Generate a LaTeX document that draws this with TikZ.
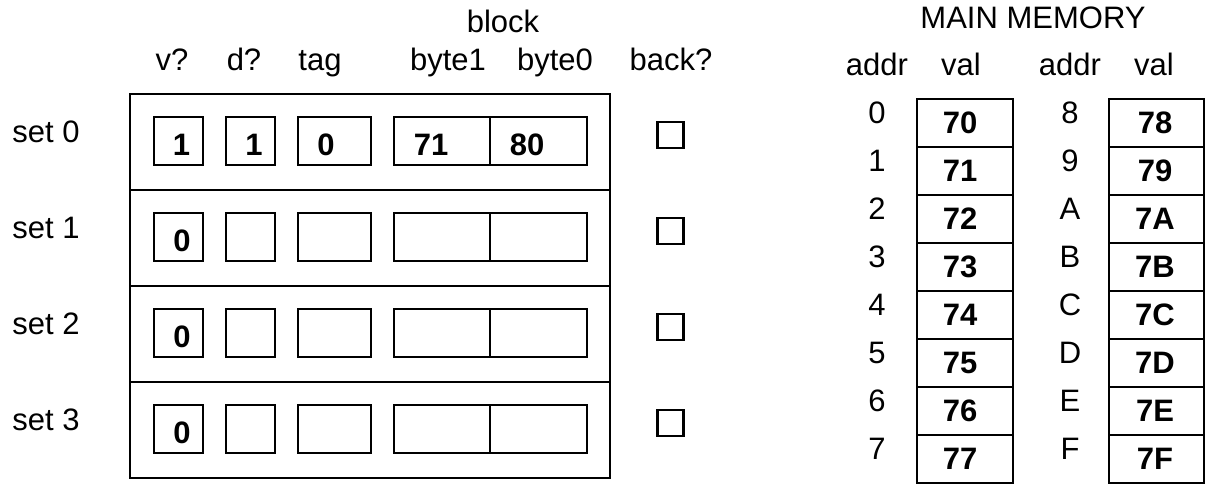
\documentclass[tikz,border=0pt]{standalone}
\usepackage{fontspec}
\setmainfont{Liberation Sans}
\begin{document}
\begin{tikzpicture}[x=1pt,y=-1pt,
  every node/.style={font=\fontsize{31}{36}\selectfont, inner sep=0pt, outer sep=0pt},
  lbl/.style={anchor=base},
  valtxt/.style={anchor=base, font=\fontsize{31}{36}\selectfont\bfseries},
  frame/.style={draw, line width=2pt, rectangle, minimum width=480pt, minimum height=96pt},
  cell/.style={draw, line width=2.3pt, rectangle, minimum height=48pt},
  chk/.style={draw, line width=2.2pt, rectangle, minimum width=26pt, minimum height=26pt}]
\useasboundingbox (0,0) rectangle (1206,485);

% ---- cache headers ----
\node[lbl] (hblock) at (503,32) {block};
\node[lbl] (hv) at (172,70) {v?};
\node[lbl] (hd) at (244,70) {d?};
\node[lbl] (htag) at (320,70) {tag};
\node[lbl] (hb1) at (448,70) {byte1};
\node[lbl] (hb0) at (555,70) {byte0};
\node[lbl] (hback) at (671,70) {back?};

% ---- cache rows ----
\foreach \r in {0,...,3} {
  \pgfmathsetmacro\t{94+96*\r}
  \node[frame] (row\r) at (370,\t+48) {};
  \node[lbl] (set\r) at (46,\t+48) {set \r};
  \node[cell, minimum width=49pt] (v\r) at (178.5,\t+47) {};
  \node[cell, minimum width=49pt] (d\r) at (250.5,\t+47) {};
  \node[cell, minimum width=73pt] (tag\r) at (334.5,\t+47) {};
  \node[cell, minimum width=96pt] (bA\r) at (442,\t+47) {};
  \node[cell, minimum width=97pt] (bB\r) at (538.5,\t+47) {};
  \node[chk] (back\r) at (670.5,\t+41) {};
}
\node[valtxt] (v0t) at (181.5,155) {1};
\node[valtxt] (d0t) at (254,155) {1};
\node[valtxt] (tag0t) at (326,155) {0};
\node[valtxt] (bA0t) at (431,155) {71};
\node[valtxt] (bB0t) at (527,155) {80};
\node[valtxt] (v1t) at (182,251) {0};
\node[valtxt] (v2t) at (182,347) {0};
\node[valtxt] (v3t) at (182,443) {0};

% ---- main memory ----
\node[lbl] (hmm) at (1033,28) {MAIN MEMORY};
\node[lbl] (haddrA) at (877,75) {addr};
\node[lbl] (hvalA) at (961,75) {val};
\node[lbl] (haddrB) at (1070,75) {addr};
\node[lbl] (hvalB) at (1154,75) {val};

\foreach \i/\a in {0/8,1/9,2/A,3/B,4/C,5/D,6/E,7/F} {
  \pgfmathsetmacro\t{99+48*\i}
  \node[cell, minimum width=96pt] (mA\i) at (965,\t+24) {};
  \node[cell, minimum width=95pt] (mB\i) at (1156.5,\t+24) {};
  \node[lbl] (aA\i) at (877,\t+24) {\i};
  \node[lbl] (aB\i) at (1070,\t+24) {\a};
  \node[valtxt] (tA\i) at (960,\t+34) {7\i};
  \node[valtxt] (tB\i) at (1155,\t+34) {7\a};
}
\end{tikzpicture}
\end{document}
